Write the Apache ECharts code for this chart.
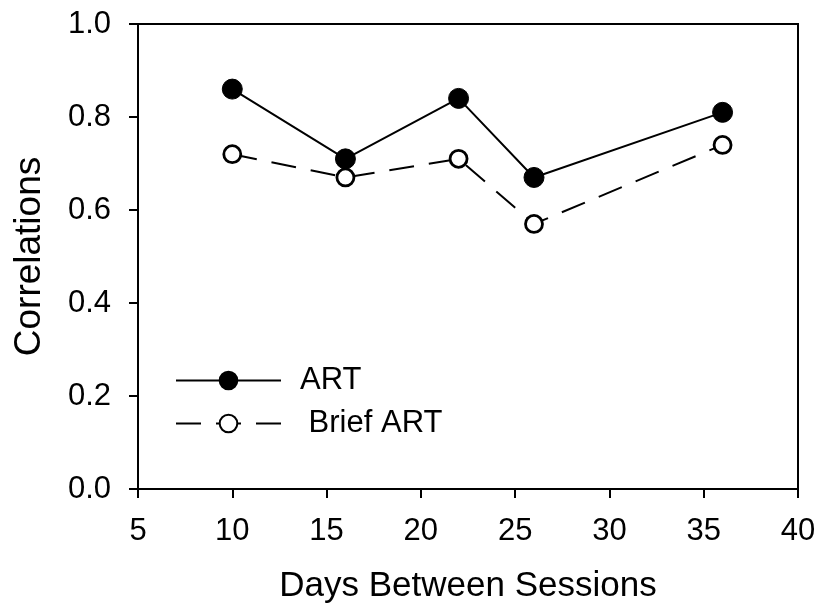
<!DOCTYPE html>
<html><head><meta charset="utf-8">
<script src="https://cdn.jsdelivr.net/npm/echarts@6/dist/echarts.min.js"></script>
<style>html,body{margin:0;padding:0;background:#fff}#c{width:819px;height:609px}</style>
</head><body><div id="c"></div>
<script>
const days = [10, 16, 22, 26, 36];
const artValues = [0.86, 0.71, 0.84, 0.67, 0.81];
const briefArtValues = [0.72, 0.67, 0.71, 0.57, 0.74];
const seriesNames = ['ART', ' Brief ART'];
const xTitle = 'Days Between Sessions';
const yTitle = 'Correlations';

const chart = echarts.init(document.getElementById('c'));
const font = 'Liberation Sans, Arial, sans-serif';
chart.setOption({
  animation: false,
  grid: {left: 138, right: 21, top: 24, bottom: 120, show: true, borderColor: '#000', borderWidth: 2, backgroundColor: 'transparent'},
  xAxis: {
    type: 'value', min: 5, max: 40, interval: 5,
    name: xTitle, nameLocation: 'middle', nameGap: 80,
    nameTextStyle: {fontFamily: font, fontSize: 35, color: '#000'},
    axisLine: {show: true, lineStyle: {color: '#000', width: 2}},
    axisTick: {show: true, length: 9, lineStyle: {color: '#000', width: 2}},
    axisLabel: {fontFamily: font, fontSize: 31, color: '#000', margin: 27},
    splitLine: {show: false}
  },
  yAxis: {
    type: 'value', min: 0, max: 1, interval: 0.2,
    name: yTitle, nameLocation: 'middle', nameGap: 90,
    nameTextStyle: {fontFamily: font, fontSize: 37, color: '#000'},
    axisLine: {show: true, lineStyle: {color: '#000', width: 2}},
    axisTick: {show: true, length: 9, lineStyle: {color: '#000', width: 2}},
    axisLabel: {fontFamily: font, fontSize: 31, color: '#000', margin: 27, formatter: v => v.toFixed(1)},
    splitLine: {show: false}
  },
  legend: {
    orient: 'vertical', left: 170, top: 360, itemGap: 12,
    itemWidth: 105, itemHeight: 22,
    textStyle: {fontFamily: font, fontSize: 31, color: '#000', padding: [0, 0, 0, 14]},
    data: seriesNames
  },
  series: [
    {
      name: seriesNames[0], type: 'line',
      data: days.map((d, i) => [d, artValues[i]]),
      symbol: 'circle', symbolSize: 20,
      lineStyle: {color: '#000', width: 2},
      itemStyle: {color: '#000', borderColor: '#000', borderWidth: 1}
    },
    {
      name: seriesNames[1], type: 'line',
      data: days.map((d, i) => [d, briefArtValues[i]]),
      symbol: 'circle', symbolSize: 17,
      lineStyle: {color: '#000', width: 2, type: [25, 15]},
      itemStyle: {color: '#fff', borderColor: '#000', borderWidth: 2.8}
    }
  ]
});
</script></body></html>
